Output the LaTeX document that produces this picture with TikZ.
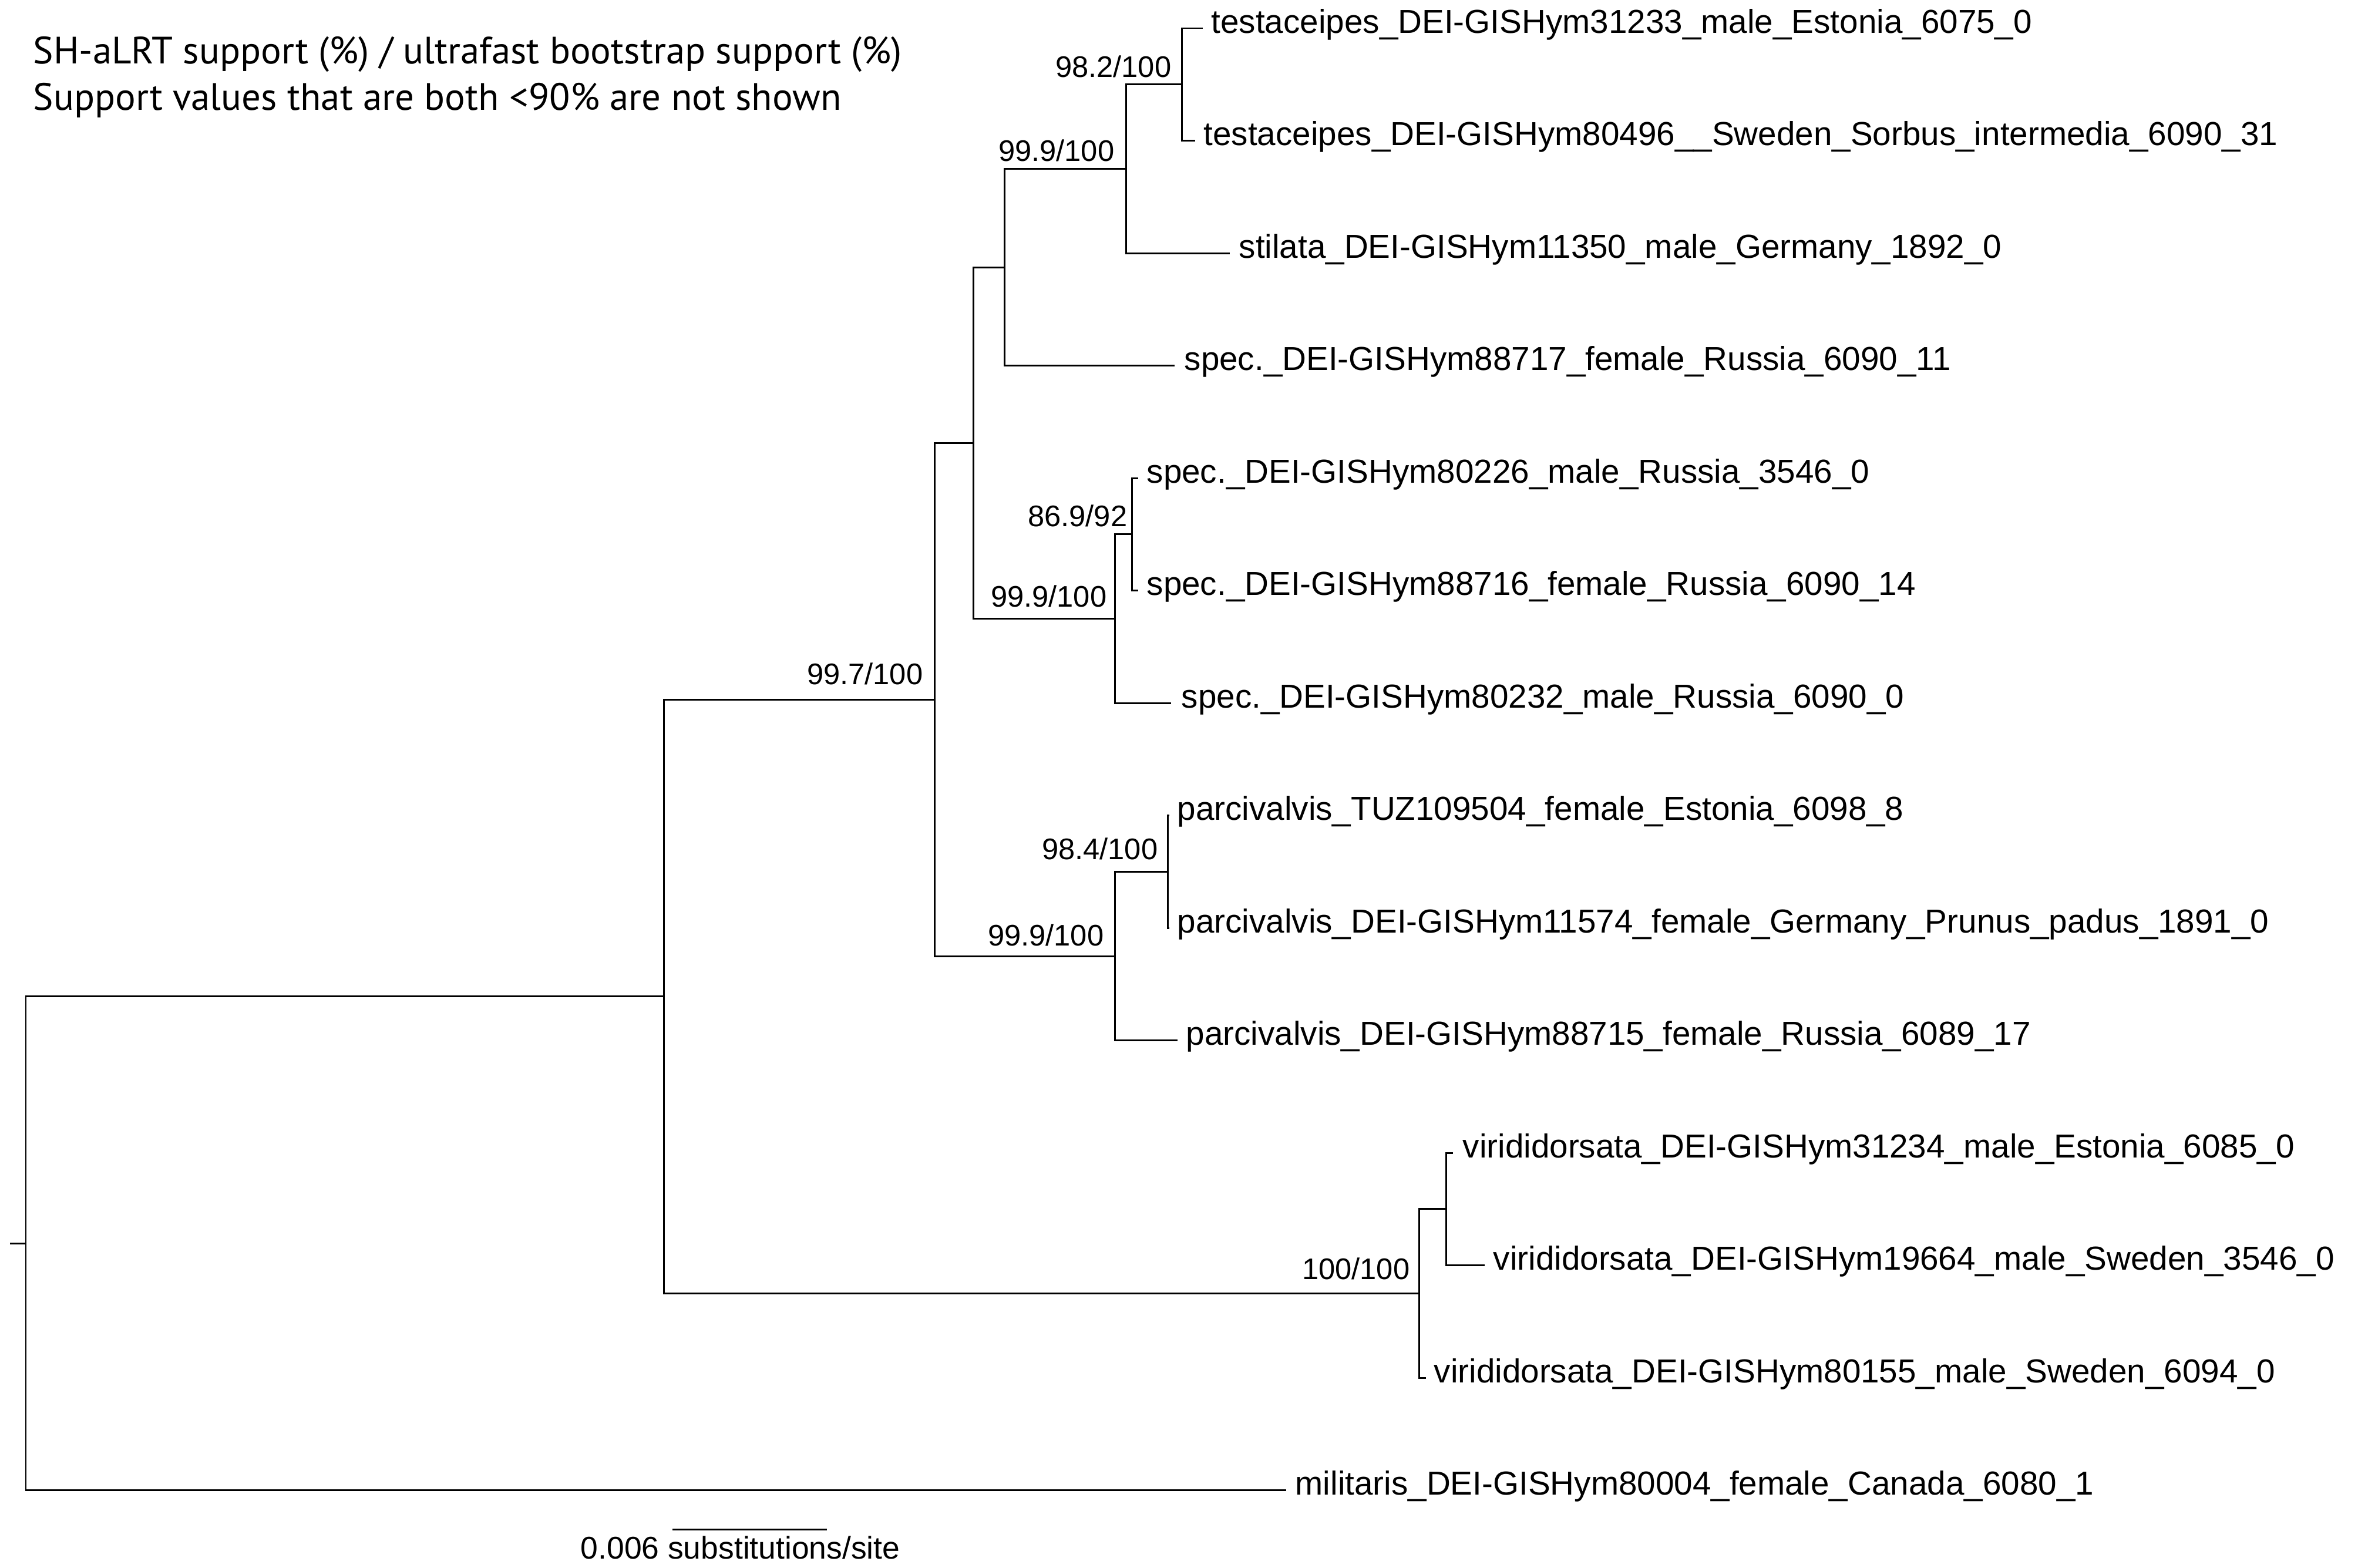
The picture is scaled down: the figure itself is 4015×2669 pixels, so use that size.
\documentclass[tikz,border=0pt]{standalone}
\usepackage{fontspec}
\setmainfont{Liberation Sans}
\newfontfamily\hdrfont{PT Sans}
\begin{document}
\begin{tikzpicture}[x=0.01cm,y=-0.01cm,
  br/.style={line width=0.85pt, line join=miter},
  taxon/.style={anchor=base west, inner sep=0pt, font=\fontsize{16.1}{18}\selectfont},
  support/.style={anchor=base east, inner sep=0pt, font=\fontsize{14.4}{16}\selectfont},
  scalelbl/.style={anchor=base west, inner sep=0pt, font=\fontsize{15.2}{17}\selectfont},
  hdr/.style={anchor=base west, inner sep=0pt, font=\hdrfont\fontsize{18.45}{21}\selectfont}]
\useasboundingbox (0,0) rectangle (4015,2669);
% internal nodes
\coordinate (R0) at (17,2117);
\coordinate (R) at (44,2117);
\coordinate (L) at (1130,1696.5);
\coordinate (A) at (1591,1191);
\coordinate (K) at (1657,754);
\coordinate (B) at (1710,455);
\coordinate (C) at (1917,287.4);
\coordinate (D) at (2012,143.75);
\coordinate (E) at (1898,1053.4);
\coordinate (F) at (1927,909.75);
\coordinate (H) at (1898,1628);
\coordinate (G) at (1988,1484);
\coordinate (I) at (2416,2202);
\coordinate (J) at (2462,2058.75);
% tips
\coordinate (t1) at (2048,48);
\coordinate (t2) at (2035,239.5);
\coordinate (t3) at (2094,431);
\coordinate (t4) at (2000,622.5);
\coordinate (t5) at (1938,814);
\coordinate (t6) at (1938,1005.5);
\coordinate (t7) at (1994,1197);
\coordinate (t8) at (1991,1388.5);
\coordinate (t9) at (1991,1580);
\coordinate (t10) at (2005,1771.5);
\coordinate (t11) at (2474,1963);
\coordinate (t12) at (2528,2154.5);
\coordinate (t13) at (2428,2346);
\coordinate (t14) at (2190,2537.5);
% branches
\draw[br] (R0) -- (R);
\draw[br] (R) |- (L);  \draw[br] (R) |- (t14);
\draw[br] (L) |- (A);  \draw[br] (L) |- (I);
\draw[br] (A) |- (K);  \draw[br] (A) |- (H);
\draw[br] (K) |- (B);  \draw[br] (K) |- (E);
\draw[br] (B) |- (C);  \draw[br] (B) |- (t4);
\draw[br] (C) |- (D);  \draw[br] (C) |- (t3);
\draw[br] (D) |- (t1); \draw[br] (D) |- (t2);
\draw[br] (E) |- (F);  \draw[br] (E) |- (t7);
\draw[br] (F) |- (t5); \draw[br] (F) |- (t6);
\draw[br] (H) |- (G);  \draw[br] (H) |- (t10);
\draw[br] (G) |- (t8); \draw[br] (G) |- (t9);
\draw[br] (I) |- (J);  \draw[br] (I) |- (t13);
\draw[br] (J) |- (t11); \draw[br] (J) |- (t12);
% taxon labels
\node[taxon] (l1) at (2062,56) {testaceipes\_DEI-GISHym31233\_male\_Estonia\_6075\_0};
\node[taxon] (l2) at (2049,247.5) {testaceipes\_DEI-GISHym80496\_\_Sweden\_Sorbus\_intermedia\_6090\_31};
\node[taxon] (l3) at (2109,439) {stilata\_DEI-GISHym11350\_male\_Germany\_1892\_0};
\node[taxon] (l4) at (2016,630.5) {spec.\_DEI-GISHym88717\_female\_Russia\_6090\_11};
\node[taxon] (l5) at (1952,822) {spec.\_DEI-GISHym80226\_male\_Russia\_3546\_0};
\node[taxon] (l6) at (1952,1013.5) {spec.\_DEI-GISHym88716\_female\_Russia\_6090\_14};
\node[taxon] (l7) at (2011,1205) {spec.\_DEI-GISHym80232\_male\_Russia\_6090\_0};
\node[taxon] (l8) at (2004,1396.5) {parcivalvis\_TUZ109504\_female\_Estonia\_6098\_8};
\node[taxon] (l9) at (2004,1588) {parcivalvis\_DEI-GISHym11574\_female\_Germany\_Prunus\_padus\_1891\_0};
\node[taxon] (l10) at (2019,1779.5) {parcivalvis\_DEI-GISHym88715\_female\_Russia\_6089\_17};
\node[taxon] (l11) at (2490,1971) {viridid{}orsata\_DEI-GISHym31234\_male\_Estonia\_6085\_0};
\node[taxon] (l12) at (2542,2162.5) {viridid{}orsata\_DEI-GISHym19664\_male\_Sweden\_3546\_0};
\node[taxon] (l13) at (2441,2354) {viridid{}orsata\_DEI-GISHym80155\_male\_Sweden\_6094\_0};
\node[taxon] (l14) at (2205,2545.5) {militaris\_DEI-GISHym80004\_female\_Canada\_6080\_1};
% support values
\node[support] (sD) at (1995,131) {98.2/100};
\node[support] (sC) at (1898,274) {99.9/100};
\node[support] (sF) at (1920,896) {86.9/92};
\node[support] (sE) at (1885,1033) {99.9/100};
\node[support] (sG) at (1972,1463) {98.4/100};
\node[support] (sH) at (1880,1610) {99.9/100};
\node[support] (sA) at (1572,1165) {99.7/100};
\node[support] (sI) at (2401,2178) {100/100};
% scale bar
\coordinate (s0) at (1145,2604);
\coordinate (s1) at (1408,2604);
\draw[br] (s0) -- (s1);
\node[scalelbl] (sl) at (988,2654) {0.006 substitutions/site};
% header
\node[hdr] (h1) at (56,108) {SH-aLRT support (\%) / ultrafast bootstrap support (\%)};
\node[hdr] (h2) at (56,187) {Support values that are both <90\% are not shown};
\end{tikzpicture}
\end{document}
